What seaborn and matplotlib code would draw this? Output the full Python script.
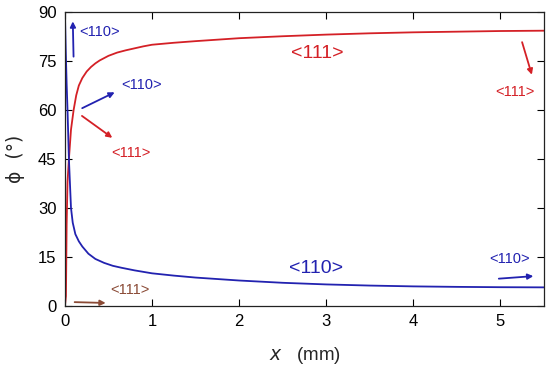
import matplotlib
matplotlib.use("Agg")
import matplotlib.pyplot as plt
import seaborn as sns

# Curve data (x in mm, phi in degrees)
x_111 = [0.0, 0.012, 0.02, 0.03, 0.046, 0.07, 0.1, 0.13, 0.16, 0.2, 0.25, 0.3, 0.35, 0.4, 0.5, 0.6,
         0.7, 0.8, 0.9, 1.0, 1.25, 1.5, 2.0, 2.5, 3.0, 3.5, 4.0, 4.5, 5.0, 5.5]
phi_111 = [0.0, 3, 25, 38, 45, 54, 60, 64.5, 67.5, 69.8, 71.8, 73.2, 74.3, 75.2, 76.6, 77.6,
           78.3, 78.9, 79.5, 80, 80.6, 81.1, 82, 82.6, 83.1, 83.5, 83.8, 84.0, 84.2, 84.3]

x_110 = [0.0, 0.01, 0.02, 0.03, 0.046, 0.07, 0.09, 0.12, 0.16, 0.2, 0.27, 0.35, 0.45, 0.55, 0.65,
         0.8, 1.0, 1.25, 1.5, 2.0, 2.5, 3.0, 3.5, 4.0, 4.5, 5.0, 5.5]
phi_110 = [90.0, 78, 68, 60, 45, 30, 25.5, 22, 19.8, 18.2, 16, 14.4, 13.2, 12.3, 11.7,
           10.9, 10.0, 9.3, 8.7, 7.8, 7.1, 6.6, 6.25, 6.0, 5.85, 5.75, 5.7]

x_ticks = [0, 1, 2, 3, 4, 5]
y_ticks = [0, 15, 30, 45, 60, 75, 90]

red = "#d42026"
blue = "#2222b0"
brown = "#8a4a35"

sns.set_style("ticks")
plt.rcParams["font.family"] = ["Liberation Sans", "DejaVu Sans"]

fig = plt.figure(figsize=(5.5, 3.66), dpi=100)
ax = fig.add_axes([0.118, 0.164, 0.871, 0.803])

sns.lineplot(x=x_111, y=phi_111, color=red, lw=1.3, ax=ax, sort=False)
sns.lineplot(x=x_110, y=phi_110, color=blue, lw=1.3, ax=ax, sort=False)

ax.set_xlim(0, 5.5)
ax.set_ylim(0, 90)
ax.set_xticks(x_ticks)
ax.set_yticks(y_ticks)
ax.tick_params(direction="in", length=5, width=0.8, top=True, right=True,
               labelsize=12, colors="black", pad=6)
for s in ax.spines.values():
    s.set_linewidth(0.9)
    s.set_color("#222222")

ax.set_xlabel(r"$x$   (mm)", fontsize=13.5, labelpad=11)
ax.set_ylabel("ϕ  (°)", fontsize=13.5, labelpad=9, family=["DejaVu Sans"])

arrow = dict(arrowstyle="-|>", lw=1.3, mutation_scale=8)

# annotations
ax.annotate("", xy=(0.09, 88), xytext=(0.1, 75.5), arrowprops=dict(arrow, color=blue))
ax.text(0.17, 84, "<110>", color=blue, fontsize=10.5, va="center")

ax.annotate("", xy=(0.6, 65.8), xytext=(0.17, 60.2), arrowprops=dict(arrow, color=blue))
ax.text(0.65, 67.6, "<110>", color=blue, fontsize=10.5, va="center")

ax.annotate("", xy=(0.57, 51), xytext=(0.17, 58.7), arrowprops=dict(arrow, color=red))
ax.text(0.53, 46.8, "<111>", color=red, fontsize=10.5, va="center")

ax.text(2.9, 77.4, "<111>", color=red, fontsize=14, ha="center", va="center")

ax.annotate("", xy=(5.37, 70), xytext=(5.24, 81.6), arrowprops=dict(arrow, color=red))
ax.text(5.17, 65.4, "<111>", color=red, fontsize=10.5, ha="center", va="center")

ax.text(2.88, 11.6, "<110>", color=blue, fontsize=14, ha="center", va="center")

ax.annotate("", xy=(5.41, 9.2), xytext=(4.95, 8.3), arrowprops=dict(arrow, color=blue))
ax.text(5.1, 14.4, "<110>", color=blue, fontsize=10.5, ha="center", va="center")

ax.annotate("", xy=(0.5, 0.9), xytext=(0.08, 1.2), arrowprops=dict(arrow, color=brown))
ax.text(0.75, 4.9, "<111>", color=brown, fontsize=10.5, ha="center", va="center")

fig.savefig("out.png", dpi=100)
